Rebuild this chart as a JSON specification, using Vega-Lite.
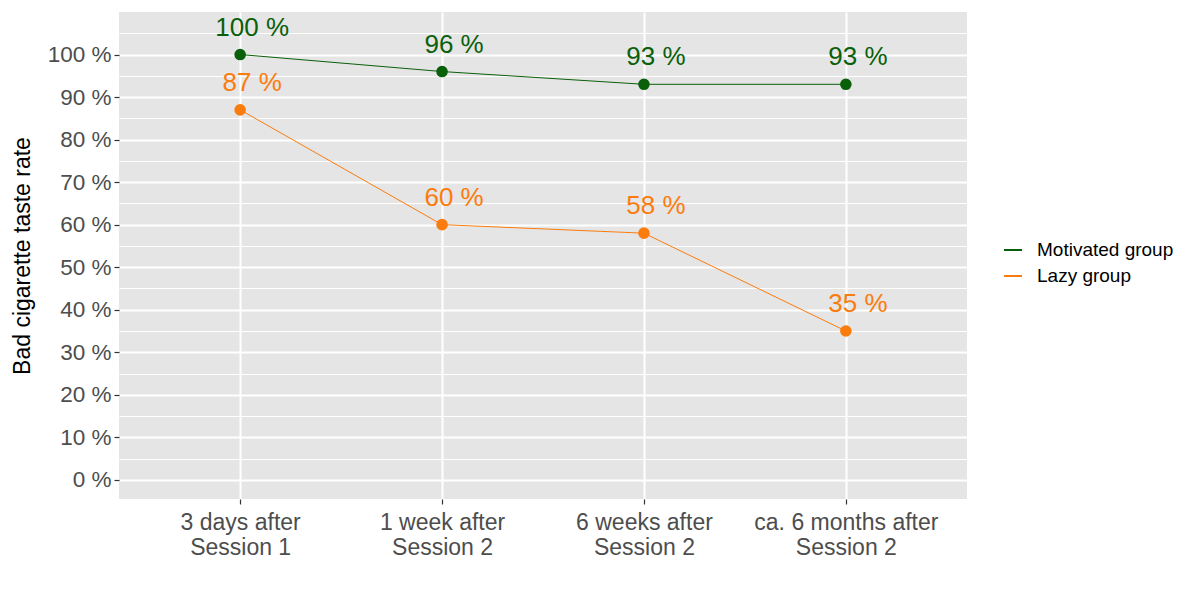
{
  "$schema": "https://vega.github.io/schema/vega-lite/v6.json",
  "width": 848,
  "height": 487,
  "autosize": {"type": "none"},
  "padding": {"left": 119, "top": 12, "right": 233, "bottom": 101},
  "config": {
    "background": "white",
    "font": "Liberation Sans",
    "view": {"fill": "#e5e5e5", "stroke": null}
  },
  "data": {
    "values": [
      {"time": "3 days after\nSession 1", "group": "Motivated group", "rate": 100},
      {"time": "1 week after\nSession 2", "group": "Motivated group", "rate": 96},
      {"time": "6 weeks after\nSession 2", "group": "Motivated group", "rate": 93},
      {"time": "ca. 6 months after\nSession 2", "group": "Motivated group", "rate": 93},
      {"time": "3 days after\nSession 1", "group": "Lazy group", "rate": 87},
      {"time": "1 week after\nSession 2", "group": "Lazy group", "rate": 60},
      {"time": "6 weeks after\nSession 2", "group": "Lazy group", "rate": 58},
      {"time": "ca. 6 months after\nSession 2", "group": "Lazy group", "rate": 35}
    ]
  },
  "encoding": {
    "x": {
      "field": "time",
      "type": "nominal",
      "sort": null,
      "scale": {"type": "point", "padding": 0.6},
      "axis": {
        "title": null,
        "labelAngle": 0,
        "labelExpr": "split(datum.label, '\\n')",
        "labelFontSize": 23,
        "labelColor": "#4d4d4d",
        "labelLineHeight": 25,
        "labelPadding": 7,
        "labelLimit": 0,
        "domain": false,
        "tickColor": "#333333",
        "tickSize": 5,
        "tickWidth": 1.2,
        "grid": true,
        "gridColor": "white",
        "gridWidth": 2
      }
    },
    "y": {
      "field": "rate",
      "type": "quantitative",
      "scale": {"domain": [-4.5, 110], "nice": false, "zero": false},
      "axis": {
        "title": "Bad cigarette taste rate",
        "titleFontSize": 23,
        "titleFontWeight": "normal",
        "titleColor": "black",
        "titlePadding": 13,
        "values": [0, 5, 10, 15, 20, 25, 30, 35, 40, 45, 50, 55, 60, 65, 70, 75, 80, 85, 90, 95, 100, 105],
        "labelExpr": "datum.value % 10 === 0 ? datum.value + ' %' : ''",
        "labelFontSize": 22.5,
        "labelColor": "#4d4d4d",
        "labelPadding": 3,
        "domain": false,
        "tickColor": "#333333",
        "tickSize": 5,
        "tickWidth": 1.2,
        "tickOpacity": {"condition": {"test": "datum.value % 10 === 0", "value": 1}, "value": 0},
        "grid": true,
        "gridColor": "white",
        "gridWidth": {"condition": {"test": "datum.value % 10 === 0", "value": 2}, "value": 1}
      }
    },
    "color": {
      "field": "group",
      "type": "nominal",
      "scale": {"domain": ["Motivated group", "Lazy group"], "range": ["#0a5f0a", "#fb7c0e"]},
      "legend": {
        "title": null,
        "orient": "none",
        "legendX": 884,
        "legendY": 228,
        "symbolType": "stroke",
        "symbolSize": 324,
        "symbolStrokeWidth": 2,
        "labelFontSize": 19,
        "labelColor": "black",
        "labelOffset": 14,
        "rowPadding": 6
      }
    }
  },
  "layer": [
    {"mark": {"type": "line", "strokeWidth": 1}},
    {"mark": {"type": "point", "filled": true, "size": 135, "opacity": 1}},
    {
      "transform": [{"calculate": "datum.rate + ' %'", "as": "label"}],
      "mark": {"type": "text", "fontSize": 26, "dy": -27, "dx": 12, "baseline": "middle"},
      "encoding": {"text": {"field": "label", "type": "nominal"}}
    }
  ]
}
